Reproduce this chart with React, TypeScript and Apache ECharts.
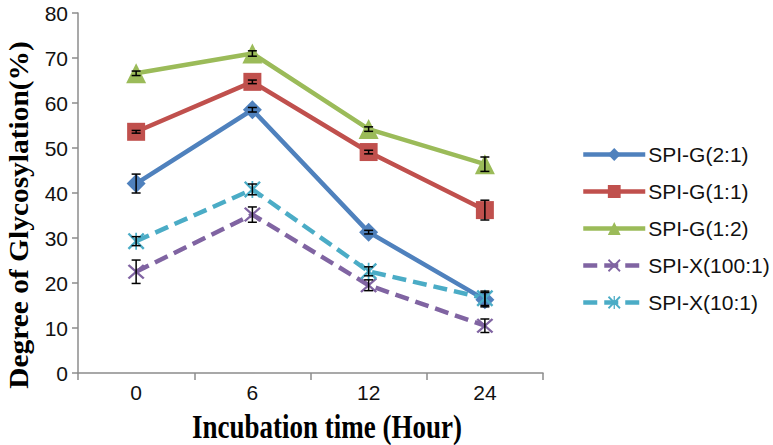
import React, { useEffect, useRef } from "react";
import * as echarts from "echarts";

const categories = ["0", "6", "12", "24"];
const seriesNames = ["SPI-G(2:1)", "SPI-G(1:1)", "SPI-G(1:2)", "SPI-X(100:1)", "SPI-X(10:1)"];
const g21 = [42.1, 58.5, 31.3, 16.3];
const g11 = [53.6, 64.7, 49.1, 36.2];
const g12 = [66.6, 71.0, 54.2, 46.4];
const x100 = [22.5, 35.2, 19.5, 10.5];
const x10 = [29.3, 40.8, 22.6, 16.6];
const g21Err = [2.1, 0.5, 0.4, 1.6];
const g11Err = [0.3, 0.4, 0.4, 2.2];
const g12Err = [0.5, 0.6, 0.5, 1.6];
const x100Err = [2.6, 1.7, 1.2, 1.5];
const x10Err = [1.0, 1.2, 1.0, 1.6];
const yTicks = { min: 0, max: 80, interval: 10 };

const colors = ["#4F81BD", "#C0504D", "#9BBB59", "#8064A2", "#4BACC6"];
const symbols = [
  "diamond",
  "rect",
  "triangle",
  "path://M0,2 L2,0 L10,8 L18,0 L20,2 L12,10 L20,18 L18,20 L10,12 L2,20 L0,18 L8,10 Z",
  "path://M0,2 L2,0 L10,8 L18,0 L20,2 L12,10 L20,18 L18,20 L10,12 L2,20 L0,18 L8,10 Z M9,0 L11,0 L11,20 L9,20 Z",
];
const symbolSizes = [19, 18, 20, [17, 15], 17];

export default function App() {
  const ref = useRef<HTMLDivElement>(null);
  useEffect(() => {
    if (!ref.current) return;
    const chart = echarts.init(ref.current, undefined, { renderer: "svg" });
    const values = [g21, g11, g12, x100, x10];
    const errs = [g21Err, g11Err, g12Err, x100Err, x10Err];
    const errData: number[][] = [];
    values.forEach((vals, si) => {
      vals.forEach((v, i) => errData.push([i, v, errs[si][i]]));
    });
    const lineSeries = values.map((vals, i) => ({
      type: "line",
      name: seriesNames[i],
      data: vals,
      symbol: symbols[i],
      symbolSize: symbolSizes[i],
      showAllSymbol: true,
      itemStyle: { color: colors[i], opacity: 1 },
      lineStyle: {
        color: colors[i],
        width: 4.5,
        type: i >= 3 ? [14, 7] : "solid",
        cap: "butt",
      },
      z: 2,
    }));
    chart.setOption({
      animation: false,
      grid: { left: 78, right: 230, top: 13, bottom: 72 },
      xAxis: {
        type: "category",
        data: categories,
        boundaryGap: true,
        axisLine: { lineStyle: { color: "#8c8c8c", width: 1.5 } },
        axisTick: { show: true, length: 7, lineStyle: { color: "#8c8c8c", width: 1.5 } },
        axisLabel: { margin: 9, fontSize: 21, color: "#111", fontFamily: "Liberation Sans" },
      },
      yAxis: {
        type: "value",
        min: yTicks.min,
        max: yTicks.max,
        interval: yTicks.interval,
        axisLine: { show: true, lineStyle: { color: "#8c8c8c", width: 1.5 } },
        axisTick: { show: true, length: 6, lineStyle: { color: "#8c8c8c", width: 1.5 } },
        splitLine: { show: false },
        axisLabel: { margin: 10, fontSize: 21, color: "#111", fontFamily: "Liberation Sans" },
      },
      legend: {
        orient: "vertical",
        left: 576,
        top: 139,
        itemWidth: 62,
        itemHeight: 16,
        itemGap: 16,
        data: seriesNames,
        lineStyle: { width: 4.5 },
        textStyle: { fontSize: 21, color: "#111", fontFamily: "Liberation Sans", padding: [0, 0, 0, -2] },
      },
      graphic: [
        {
          type: "text",
          x: 19,
          y: 215,
          rotation: Math.PI / 2,
          scaleX: 1.09,
          style: {
            text: "Degree of Glycosylation(%)",
            font: "bold 27px 'Liberation Serif'",
            fill: "#000",
            textAlign: "center",
            textVerticalAlign: "middle",
          },
        },
        {
          type: "text",
          x: 327,
          y: 427,
          scaleY: 1.22,
          style: {
            text: "Incubation time (Hour)",
            font: "bold 27px 'Liberation Serif'",
            fill: "#000",
            textAlign: "center",
            textVerticalAlign: "middle",
          },
        },
      ],
      series: [
        ...lineSeries,
        {
          type: "custom",
          name: "err",
          data: errData,
          encode: { x: 0, y: 1 },
          z: 5,
          renderItem: (params: any, api: any) => {
            const x = api.value(0);
            const v = api.value(1);
            const e = api.value(2);
            const top = api.coord([x, v + e]);
            const bot = api.coord([x, v - e]);
            const hw = 4.5;
            const st = { stroke: "#000", lineWidth: 1.5 };
            return {
              type: "group",
              children: [
                { type: "line", shape: { x1: top[0], y1: top[1], x2: bot[0], y2: bot[1] }, style: st },
                { type: "line", shape: { x1: top[0] - hw, y1: top[1], x2: top[0] + hw, y2: top[1] }, style: st },
                { type: "line", shape: { x1: bot[0] - hw, y1: bot[1], x2: bot[0] + hw, y2: bot[1] }, style: st },
              ],
            };
          },
        },
      ],
    });
    return () => chart.dispose();
  }, []);
  return <div ref={ref} style={{ width: 773, height: 445, position: "absolute", left: 0, top: 0 }} />;
}
